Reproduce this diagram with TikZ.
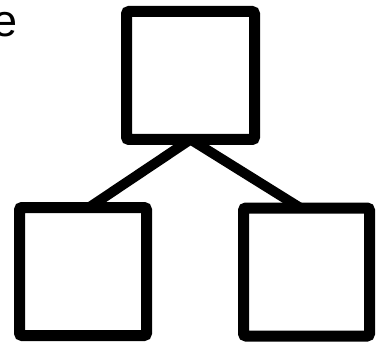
\documentclass[tikz,border=0pt]{standalone}
\usepackage{fontspec}
\setmainfont{Liberation Sans}
\begin{document}
\begin{tikzpicture}[x=1pt,y=1pt,
  boxnode/.style={draw=black, line width=11pt, fill=white, rectangle, rounded corners=2.5pt,
    outer sep=0pt, inner sep=0pt, minimum height=128pt},
  link/.style={draw=black, line width=10pt}]
\useasboundingbox (0,0) rectangle (385,343);
\clip (0,0) rectangle (385,343);
\node[anchor=base east, inner sep=0pt, font=\fontsize{45}{45}\selectfont] (lbl) at (18,306.5) {e};
\node[boxnode, minimum width=128pt] (top) at (190.5,267.5) {};
\node[boxnode, minimum width=127pt] (bl) at (83,71.5) {};
\node[boxnode, minimum width=126pt] (br) at (306.5,71) {};
\begin{scope}[on background layer/.try]
\end{scope}
\draw[link] (top.south) -- ([xshift=6pt]bl.north);
\draw[link] (top.south) -- ([xshift=-6pt]br.north);
\end{tikzpicture}
\end{document}
